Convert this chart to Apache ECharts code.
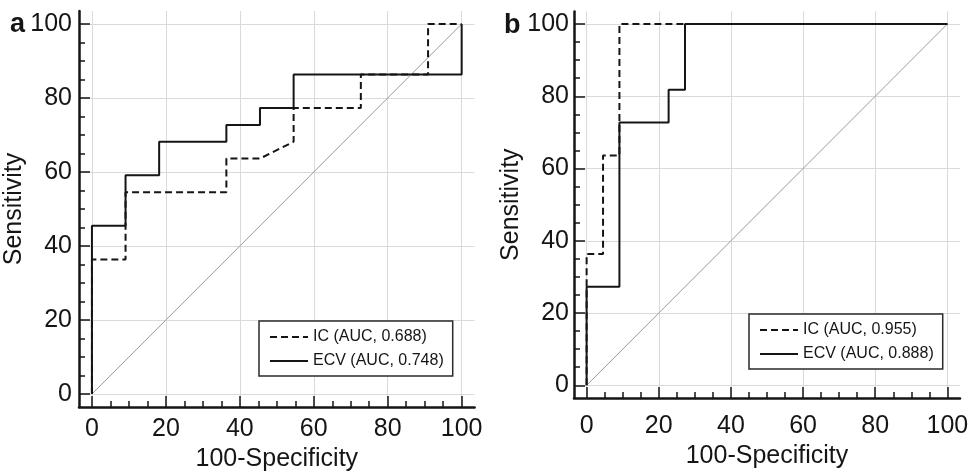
<!DOCTYPE html>
<html><head><meta charset="utf-8">
<script src="https://cdn.jsdelivr.net/npm/echarts@6/dist/echarts.min.js"></script>
<style>html,body{margin:0;padding:0;background:#fff}#c{width:969px;height:471px}</style>
</head><body><div id="c"></div>
<script>
// ---- data ----
const majorTicks = [0, 20, 40, 60, 80, 100];
const minorTicks = [0, 5, 10, 15, 20, 25, 30, 35, 40, 45, 50, 55, 60, 65, 70, 75, 80, 85, 90, 95, 100];
const panelLabels = ['a', 'b'];
const xName = '100-Specificity';
const yName = 'Sensitivity';
const diagX = [0, 100];
const diagY = [0, 100];
// panel a
const aNames = ['IC (AUC, 0.688)', 'ECV (AUC, 0.748)'];
const aIcX = [0, 0, 9.09, 9.09, 36.36, 36.36, 45.45, 54.55, 54.55, 72.73, 72.73, 90.91, 90.91, 100];
const aIcY = [0, 36.36, 36.36, 54.55, 54.55, 63.64, 63.64, 68.18, 77.27, 77.27, 86.36, 86.36, 100, 100];
const aEcvX = [0, 0, 9.09, 9.09, 18.18, 18.18, 36.36, 36.36, 45.45, 45.45, 54.55, 54.55, 100, 100];
const aEcvY = [0, 45.45, 45.45, 59.09, 59.09, 68.18, 68.18, 72.73, 72.73, 77.27, 77.27, 86.36, 86.36, 100];
// panel b
const bNames = ['IC (AUC, 0.955)', 'ECV (AUC, 0.888)'];
const bIcX = [0, 0, 4.55, 4.55, 9.09, 9.09, 100];
const bIcY = [0, 36.36, 36.36, 63.64, 63.64, 100, 100];
const bEcvX = [0, 0, 9.09, 9.09, 22.73, 22.73, 27.27, 27.27, 100];
const bEcvY = [0, 27.27, 27.27, 72.73, 72.73, 81.82, 81.82, 100, 100];

// ---- build ----
const FONT = "'Liberation Sans', Arial, Helvetica, sans-serif";
const INK = '#151515';
const zip = (xs, ys) => xs.map((x, i) => [x, ys[i]]);
const AMIN = -3.5, AMAX = 103.5;

function mainAxis(dim, gridIndex, opt) {
  const isX = dim === 'x';
  return {
    type: 'value', gridIndex, min: AMIN, max: AMAX,
    position: isX ? 'bottom' : 'left',
    axisLine: { show: true, onZero: false, lineStyle: { color: INK, width: 2.5 } },
    axisTick: { show: true, inside: true, length: 11, customValues: majorTicks, lineStyle: { color: INK, width: 1.5 } },
    axisLabel: { show: true, customValues: majorTicks, margin: opt.margin, fontSize: 25, color: INK, fontFamily: FONT },
    splitLine: { show: true, lineStyle: { color: '#dadada', width: 1 } },
    name: isX ? xName : yName, nameLocation: 'middle', nameGap: opt.nameGap,
    nameTextStyle: { fontSize: 25, color: INK, fontFamily: FONT }
  };
}
function minorAxis(dim, gridIndex) {
  const isX = dim === 'x';
  return {
    type: 'value', gridIndex, min: AMIN, max: AMAX,
    position: isX ? 'bottom' : 'left',
    axisLine: { show: false, onZero: false },
    axisTick: { show: true, inside: true, length: 6, customValues: minorTicks, lineStyle: { color: INK, width: 1.5 } },
    axisLabel: { show: false },
    splitLine: { show: false }
  };
}
function lineSeries(name, xs, ys, xi, yi, dashed) {
  return {
    type: 'line', name, xAxisIndex: xi, yAxisIndex: yi, data: zip(xs, ys),
    symbol: 'none', animation: false, z: dashed ? 3 : 4,
    lineStyle: { color: INK, width: 2, type: dashed ? [7, 4] : 'solid' },
    itemStyle: { color: INK }
  };
}
function diagSeries(xi, yi) {
  return {
    type: 'line', xAxisIndex: xi, yAxisIndex: yi, data: zip(diagX, diagY),
    symbol: 'none', silent: true, animation: false, z: 2,
    lineStyle: { color: '#9a9a9a', width: 1 }
  };
}
function legend(names, left, top) {
  return {
    data: names, orient: 'vertical', left, top,
    padding: [8, 9, 7, 10], itemGap: 8, itemWidth: 38, itemHeight: 14,
    backgroundColor: '#fff', borderColor: '#2a2a2a', borderWidth: 1.5, borderRadius: 0,
    itemStyle: { opacity: 0 },
    textStyle: { fontSize: 16, color: INK, fontFamily: FONT, lineHeight: 16 },
    selectedMode: false
  };
}

const option = {
  backgroundColor: '#fff',
  animation: false,
  title: [
    { text: panelLabels[0], left: 10, top: 11, padding: 0, textStyle: { fontSize: 27, fontWeight: 'bold', color: INK, fontFamily: FONT } },
    { text: panelLabels[1], left: 504, top: 12, padding: 0, textStyle: { fontSize: 27, fontWeight: 'bold', color: INK, fontFamily: FONT } }
  ],
  grid: [
    { left: 79, top: 11, width: 395.6, height: 396, containLabel: false, outerBoundsMode: 'none' },
    { left: 574, top: 11.4, width: 386, height: 386.5, containLabel: false, outerBoundsMode: 'none' }
  ],
  xAxis: [
    mainAxis('x', 0, { margin: 10, nameGap: 38 }), minorAxis('x', 0),
    mainAxis('x', 1, { margin: 16, nameGap: 46 }), minorAxis('x', 1)
  ],
  yAxis: [
    mainAxis('y', 0, { margin: 7, nameGap: 45 }), minorAxis('y', 0),
    mainAxis('y', 1, { margin: 5, nameGap: 44 }), minorAxis('y', 1)
  ],
  legend: [legend(aNames, 259, 321), legend(bNames, 749, 314)],
  series: [
    diagSeries(0, 0),
    lineSeries(aNames[0], aIcX, aIcY, 0, 0, true),
    lineSeries(aNames[1], aEcvX, aEcvY, 0, 0, false),
    diagSeries(2, 2),
    lineSeries(bNames[0], bIcX, bIcY, 2, 2, true),
    lineSeries(bNames[1], bEcvX, bEcvY, 2, 2, false)
  ]
};
const chart = echarts.init(document.getElementById('c'), null, { renderer: 'canvas' });
chart.setOption(option);
</script>
</body></html>
